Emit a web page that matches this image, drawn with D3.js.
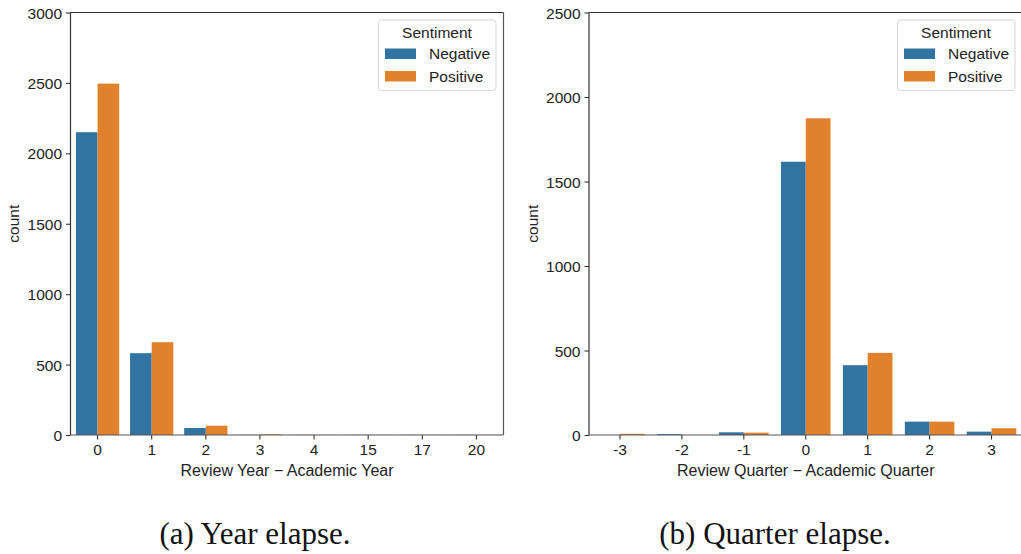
<!DOCTYPE html>
<html>
<head>
<meta charset="utf-8">
<script src="https://cdn.jsdelivr.net/npm/d3@7"></script>
<style>
  html, body { margin: 0; padding: 0; background: #fff; }
  svg { display: block; }
  .tick text { font-family: "Liberation Sans", Arial, sans-serif; font-size: 15.5px; fill: #222; }
</style>
</head>
<body>
<svg id="chart" width="1021" height="554"></svg>
<script>
// Sentiment groups shared by both panels
const sentiments = ["Negative", "Positive"];
const sentimentColors = ["#3274a1", "#e1812c"];

// Panel (a): review year minus academic year
const yearCategories = ["0", "1", "2", "3", "4", "15", "17", "20"];
const yearNegative = [2150, 581, 50, 1, 1, 1, 1, 1];
const yearPositive = [2495, 659, 66, 5, 1, 1, 1, 1];
const yearTicks = [0, 500, 1000, 1500, 2000, 2500, 3000];

// Panel (b): review quarter minus academic quarter
const quarterCategories = ["-3", "-2", "-1", "0", "1", "2", "3"];
const quarterNegative = [0, 5, 16, 1617, 413, 79, 20];
const quarterPositive = [7, 0, 14, 1874, 486, 79, 40];
const quarterTicks = [0, 500, 1000, 1500, 2000, 2500];

const svg = d3.select("#chart");
const sansFont = '"Liberation Sans", Arial, sans-serif';
const axisColor = "#333";

function drawPanel(opts) {
  const { left, right, top, bottom, categories, negative, positive, ticks, yMax,
          xLabel, yLabelX, legendX, caption, captionX, showRight } = opts;

  const g = svg.append("g");

  const x = d3.scaleBand().domain(categories).range([left, right]).padding(0);
  const inner = d3.scaleBand().domain(sentiments).range([0, x.bandwidth() * 0.8]);
  const y = d3.scaleLinear().domain([0, yMax]).range([bottom, top]);

  const rows = categories.map((c, i) => ({ cat: c, values: [negative[i], positive[i]] }));

  // grouped bars
  const groups = g.selectAll("g.cat").data(rows).join("g")
    .attr("transform", d => `translate(${x(d.cat) + x.bandwidth() * 0.1},0)`);
  groups.selectAll("rect").data(d => d.values.map((v, j) => ({ v, s: sentiments[j], j })))
    .join("rect")
    .attr("x", d => inner(d.s))
    .attr("width", inner.bandwidth())
    .attr("y", d => y(d.v))
    .attr("height", d => bottom - y(d.v))
    .attr("fill", d => sentimentColors[d.j]);

  // spines
  g.append("line").attr("x1", left).attr("x2", left).attr("y1", top).attr("y2", bottom)
    .attr("stroke", axisColor).attr("stroke-width", 1.2);
  g.append("line").attr("x1", left).attr("x2", right).attr("y1", top).attr("y2", top)
    .attr("stroke", axisColor).attr("stroke-width", 1.2);
  g.append("line").attr("x1", left).attr("x2", right).attr("y1", bottom).attr("y2", bottom)
    .attr("stroke", "#555").attr("stroke-width", 1.2);
  if (showRight) {
    g.append("line").attr("x1", right).attr("x2", right).attr("y1", top).attr("y2", bottom)
      .attr("stroke", "#555").attr("stroke-width", 1.2);
  }

  // axes
  const xAxis = g.append("g").attr("transform", `translate(0,${bottom})`)
    .call(d3.axisBottom(x).tickSize(4.5).tickPadding(4));
  xAxis.select(".domain").remove();
  xAxis.selectAll(".tick line").attr("stroke", axisColor).attr("stroke-width", 1.1);

  const yAxis = g.append("g").attr("transform", `translate(${left},0)`)
    .call(d3.axisLeft(y).tickValues(ticks).tickFormat(d3.format("d")).tickSize(4.5).tickPadding(4));
  yAxis.select(".domain").remove();
  yAxis.selectAll(".tick line").attr("stroke", axisColor).attr("stroke-width", 1.1);
  yAxis.selectAll(".tick text").attr("dy", "0.36em");

  // axis titles
  g.append("text").attr("x", (left + right) / 2).attr("y", bottom + 41)
    .attr("text-anchor", "middle").attr("font-family", sansFont).attr("font-size", 16)
    .attr("fill", "#222").text(xLabel);
  g.append("text").attr("transform", `translate(${yLabelX},${(top + bottom) / 2}) rotate(-90)`)
    .attr("text-anchor", "middle").attr("font-family", sansFont).attr("font-size", 15.5)
    .attr("fill", "#222").text("count");

  // legend
  const lg = g.append("g").attr("transform", `translate(${legendX},${top + 7.5})`);
  lg.append("rect").attr("width", 117.5).attr("height", 70.5).attr("rx", 3)
    .attr("fill", "#fff").attr("fill-opacity", 0.85)
    .attr("stroke", "#d6d6d6").attr("stroke-width", 1);
  lg.append("text").attr("x", 58.5).attr("y", 18).attr("text-anchor", "middle")
    .attr("font-family", sansFont).attr("font-size", 15.5).attr("fill", "#222").text("Sentiment");
  sentiments.forEach((s, i) => {
    lg.append("rect").attr("x", 6.5).attr("y", 28.5 + i * 22.5).attr("width", 31).attr("height", 10.5)
      .attr("fill", sentimentColors[i]);
    lg.append("text").attr("x", 50.5).attr("y", 39 + i * 22.5)
      .attr("font-family", sansFont).attr("font-size", 15.5).attr("fill", "#222").text(s);
  });

  // caption
  svg.append("text").attr("x", captionX).attr("y", 544).attr("text-anchor", "middle")
    .attr("font-family", '"Liberation Serif", "Times New Roman", serif').attr("font-size", 31)
    .attr("fill", "#111").text(caption);
}

drawPanel({
  left: 70.5, right: 503.5, top: 12.5, bottom: 435,
  categories: yearCategories, negative: yearNegative, positive: yearPositive,
  ticks: yearTicks, yMax: 3000,
  xLabel: "Review Year \u2212 Academic Year", yLabelX: 19,
  legendX: 378.5, caption: "(a) Year elapse.", captionX: 255, showRight: true
});

drawPanel({
  left: 589, right: 1022.5, top: 12.5, bottom: 435,
  categories: quarterCategories, negative: quarterNegative, positive: quarterPositive,
  ticks: quarterTicks, yMax: 2500,
  xLabel: "Review Quarter \u2212 Academic Quarter", yLabelX: 538,
  legendX: 897.5, caption: "(b) Quarter elapse.", captionX: 775, showRight: true
});
</script>
</body>
</html>
